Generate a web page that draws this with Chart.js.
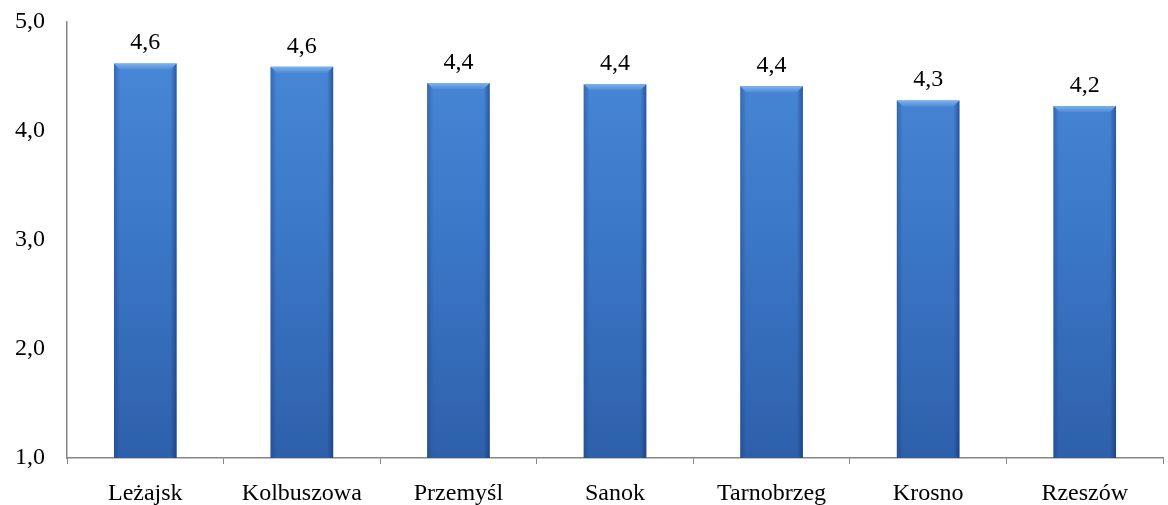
<!DOCTYPE html>
<html>
<head>
<meta charset="utf-8">
<script src="https://cdn.jsdelivr.net/npm/chart.js@4.4.0/dist/chart.umd.min.js"></script>
<style>
  html, body { margin: 0; padding: 0; background: #fff; }
  #wrap { width: 1168px; height: 505px; position: relative; }
</style>
</head>
<body>
<div id="wrap"><canvas id="chart"></canvas></div>
<script>
// values
const cities = ['Leżajsk', 'Kolbuszowa', 'Przemyśl', 'Sanok', 'Tarnobrzeg', 'Krosno', 'Rzeszów'];
const scores = [4.62, 4.59, 4.44, 4.43, 4.41, 4.28, 4.23];
const yTicks = [1, 2, 3, 4, 5];

const fmt = v => v.toFixed(1).replace('.', ',');
const serif = '"Liberation Serif", "Times New Roman", serif';

// bar fill: vertical gradient, darker towards the axis
function barFill(context){
  const chart = context.chart;
  const area = chart.chartArea;
  if(!area) return '#3c78c8';
  const g = chart.ctx.createLinearGradient(0, area.top, 0, area.bottom);
  g.addColorStop(0, '#4a8ad9');
  g.addColorStop(0.5, '#3b77c7');
  g.addColorStop(1, '#2e60aa');
  return g;
}

// bevel look + value labels on top of each bar
const bevelAndLabels = {
  id: 'bevelAndLabels',
  afterDatasetsDraw(chart){
    const c = chart.ctx;
    const area = chart.chartArea;
    const meta = chart.getDatasetMeta(0);
    meta.data.forEach((bar, i) => {
      const half = bar.width / 2;
      const l = bar.x - half, r = bar.x + half, t = bar.y, b = area.bottom;
      const e = 6;
      c.save();
      c.beginPath();
      c.rect(area.left, area.top - 40, area.right - area.left, area.bottom - area.top + 40);
      c.clip();
      // top bevel
      c.beginPath();
      c.moveTo(l, t); c.lineTo(r, t); c.lineTo(r - e, t + e); c.lineTo(l + e, t + e); c.closePath();
      const tg = c.createLinearGradient(0, t, 0, t + e);
      tg.addColorStop(0, '#7fb0ec'); tg.addColorStop(1, '#4e8ddb');
      c.fillStyle = tg; c.fill();
      // left edge
      const lg = c.createLinearGradient(l, 0, l + e, 0);
      lg.addColorStop(0, 'rgba(20,50,110,0.35)'); lg.addColorStop(1, 'rgba(20,50,110,0)');
      c.fillStyle = lg;
      c.beginPath(); c.moveTo(l, t); c.lineTo(l + e, t + e); c.lineTo(l + e, b); c.lineTo(l, b); c.closePath(); c.fill();
      // right edge
      const rg = c.createLinearGradient(r - e, 0, r, 0);
      rg.addColorStop(0, 'rgba(15,40,95,0)'); rg.addColorStop(1, 'rgba(15,40,95,0.5)');
      c.fillStyle = rg;
      c.beginPath(); c.moveTo(r, t); c.lineTo(r - e, t + e); c.lineTo(r - e, b); c.lineTo(r, b); c.closePath(); c.fill();
      c.restore();
      // value label
      c.save();
      c.fillStyle = '#000';
      c.font = '24px ' + serif;
      c.textAlign = 'center';
      c.textBaseline = 'alphabetic';
      c.fillText(fmt(scores[i]), bar.x, t - 14);
      c.restore();
    });
  }
};

new Chart(document.getElementById('chart'), {
  type: 'bar',
  data: {
    labels: cities,
    datasets: [{
      data: scores,
      backgroundColor: barFill,
      borderWidth: 0,
      categoryPercentage: 1,
      barPercentage: 0.4
    }]
  },
  options: {
    responsive: true,
    maintainAspectRatio: false,
    animation: false,
    layout: { padding: { top: 22, right: 5, left: 0, bottom: 0 } },
    plugins: { legend: { display: false }, tooltip: { enabled: false } },
    scales: {
      y: {
        min: 1, max: 5,
        afterBuildTicks: s => { s.ticks = yTicks.map(v => ({ value: v })); },
        afterFit: s => { s.width = 67; s.paddingTop = 0; s.paddingBottom = 0; },
        grid: { display: false, drawTicks: true, tickLength: 6, tickColor: '#868686' },
        border: { display: true, color: '#868686', width: 1.5 },
        ticks: {
          color: '#000',
          padding: 16,
          font: { family: serif, size: 24 },
          callback: v => fmt(v)
        }
      },
      x: {
        offset: true,
        afterFit: s => { s.height = 47; },
        grid: { display: true, drawOnChartArea: false, offset: true, tickLength: 6, tickColor: '#868686' },
        border: { display: true, color: '#868686', width: 1.5 },
        ticks: {
          color: '#000',
          padding: 15,
          maxRotation: 0,
          font: { family: serif, size: 24 }
        }
      }
    }
  },
  plugins: [bevelAndLabels]
});
</script>
</body>
</html>
